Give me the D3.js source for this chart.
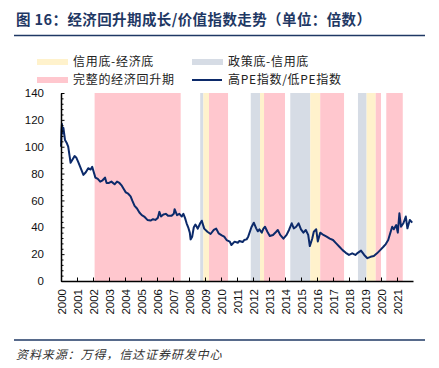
<!DOCTYPE html>
<html><head><meta charset="utf-8">
<script src="https://cdn.jsdelivr.net/npm/d3@7"></script>
<style>
body{margin:0;background:#fff;}
svg{display:block;}
</style></head>
<body>
<svg id="c" width="439" height="368"></svg>
<script>
const titleText = "图 16：经济回升期成长/价值指数走势（单位：倍数）";
const sourceText = "资料来源：万得，信达证券研发中心";
const legendLabels = ["信用底-经济底","政策底-信用底","完整的经济回升期","高PE指数/低PE指数"];
const yearTicks = [2000,2001,2002,2003,2004,2005,2006,2007,2008,2009,2010,2011,2012,2013,2014,2015,2016,2017,2018,2019,2020,2021];
const yTicks = [0,20,40,60,80,100,120,140];
const bandStart = [2002.1, 2008.7, 2008.9, 2009.25, 2011.86, 2012.44, 2012.69, 2014.33, 2015.58, 2016.2, 2018.56, 2019.1, 2019.67, 2020.33];
const bandEnd   = [2007.48, 2008.9, 2009.25, 2010.44, 2012.44, 2012.69, 2014.0, 2015.58, 2016.2, 2017.69, 2019.1, 2019.67, 2020.0, 2021.36];
const bandType  = ["full","policy","credit","full","policy","credit","full","policy","credit","full","policy","credit","full","full"];
const dates = [2000.00,2000.03,2000.06,2000.10,2000.15,2000.25,2000.35,2000.45,2000.55,2000.60,2000.75,2000.85,2000.95,2001.10,2001.20,2001.30,2001.40,2001.55,2001.70,2001.85,2001.95,2002.05,2002.15,2002.30,2002.45,2002.60,2002.75,2002.85,2003.00,2003.15,2003.35,2003.50,2003.65,2003.80,2003.95,2004.05,2004.20,2004.35,2004.45,2004.60,2004.75,2004.90,2005.05,2005.20,2005.40,2005.60,2005.75,2005.90,2006.05,2006.15,2006.25,2006.40,2006.55,2006.70,2006.90,2007.05,2007.10,2007.25,2007.40,2007.55,2007.65,2007.75,2007.85,2007.95,2008.05,2008.10,2008.20,2008.30,2008.40,2008.55,2008.70,2008.80,2008.95,2009.15,2009.35,2009.55,2009.70,2009.85,2010.05,2010.20,2010.35,2010.55,2010.65,2010.85,2011.05,2011.15,2011.35,2011.45,2011.60,2011.70,2011.90,2012.05,2012.20,2012.30,2012.40,2012.55,2012.65,2012.75,2012.90,2013.05,2013.25,2013.45,2013.55,2013.70,2013.90,2014.10,2014.25,2014.42,2014.55,2014.70,2014.85,2015.00,2015.15,2015.30,2015.45,2015.55,2015.70,2015.80,2015.95,2016.05,2016.20,2016.40,2016.60,2016.80,2017.00,2017.20,2017.40,2017.60,2017.80,2018.00,2018.20,2018.40,2018.55,2018.75,2018.95,2019.15,2019.35,2019.55,2019.75,2019.95,2020.15,2020.30,2020.45,2020.60,2020.70,2020.80,2020.95,2021.05,2021.15,2021.25,2021.40,2021.55,2021.65,2021.80,2021.95];
const ratio = [100,112,117,110,114,105,103,100,92,88,91,93,92,88,85,82,79,81,84,83,85,81,77,76,74,75,77,73,73,74,72,74,73,71,68,66,65,63,60,56,54,51,49,48,45.5,45,46,45.5,47,51.5,48,49.5,50,48.5,48.5,50,53.5,49,50,48,50,47,43,40,36,31,33,40,42,39,43,44.9,39,36.7,35,38,39,35.5,34,33,30.5,29.3,26.8,29.3,28.5,29.8,29,30.5,31,33,40,43.4,39.2,37,38.5,36,39,40.4,36.7,33.5,34.3,36.7,38,34.3,31.5,34.3,38,43,39.2,40.4,43,38.5,36,38,34.3,26,31.5,36.7,38.5,29.5,36,34.3,33,31.5,30.5,28,25.5,23,21,19.4,20.6,19.4,21,22.6,19.4,17,18,18.6,20.6,23,25.5,27.5,30.5,36.5,40.4,38.5,41.7,36,50.4,40.4,43,48,39.2,45.5,43.4];

const colors = {credit:"#FFF2CC", policy:"#D6DCE5", full:"#FFC7CE", line:"#0C2A6A", rule:"#1F3864"};
const svg = d3.select("#c");
const L=61, R=413, T=93, B=281;
const x = d3.scaleLinear().domain([2000,2022]).range([L,R]);
const y = d3.scaleLinear().domain([0,140]).range([B,T]);

// title
svg.append("text").attr("x",16).attr("y",25).attr("fill","#1F3864")
  .attr("font-family","'Noto Sans CJK SC',sans-serif").attr("font-weight","bold").attr("font-size",14.5)
  .attr("letter-spacing",0.4).text(titleText);
svg.append("line").attr("x1",14).attr("x2",425).attr("y1",35.5).attr("y2",35.5).attr("stroke",colors.rule).attr("stroke-width",1.5);
svg.append("line").attr("x1",14).attr("x2",425).attr("y1",340).attr("y2",340).attr("stroke",colors.rule).attr("stroke-width",1.5);
svg.append("text").attr("x",16).attr("y",359).attr("fill","#333")
  .attr("font-family","'Noto Sans CJK SC',sans-serif").attr("font-style","italic").attr("font-size",12)
  .attr("letter-spacing",0.9).text(sourceText);

// legend
const lg = [
  {lab:legendLabels[0], type:"credit", x:37, y:62},
  {lab:legendLabels[1], type:"policy", x:192, y:62},
  {lab:legendLabels[2], type:"full", x:37, y:80},
  {lab:legendLabels[3], type:"line", x:192, y:80}
];
lg.forEach(d=>{
  if(d.type==="line"){
    svg.append("line").attr("x1",d.x).attr("x2",d.x+30).attr("y1",d.y).attr("y2",d.y).attr("stroke",colors.line).attr("stroke-width",2);
  } else {
    svg.append("rect").attr("x",d.x).attr("y",d.y-3).attr("width",31).attr("height",6).attr("fill",colors[d.type]);
  }
  svg.append("text").attr("x",d.x+36).attr("y",d.y).attr("dy","0.35em").attr("fill","#222")
    .attr("font-family","'Noto Sans CJK SC',sans-serif").attr("font-size",12).attr("letter-spacing",0.7).text(d.lab);
});

// bands
svg.append("g").selectAll("rect").data(bandStart.map((s,i)=>({s,e:bandEnd[i],t:bandType[i]})))
  .join("rect").attr("x",d=>x(d.s)).attr("width",d=>x(d.e)-x(d.s)).attr("y",T).attr("height",B-T)
  .attr("fill",d=>colors[d.t]);

// line
const pts = dates.map((d,i)=>[d,ratio[i]]);
svg.append("path").datum(pts).attr("fill","none").attr("stroke",colors.line).attr("stroke-width",2).attr("stroke-linejoin","round")
  .attr("d",d3.line().x(d=>x(d[0])).y(d=>y(d[1])));

// axes
const minor = d3.range(0,141,4).filter(v=>v%20!==0);
const gyMinor = svg.append("g").attr("transform",`translate(${L},0)`)
  .call(d3.axisLeft(y).tickValues(minor).tickSizeInner(-2.5).tickSizeOuter(0).tickFormat(""));
gyMinor.select(".domain").remove();
gyMinor.selectAll("line").attr("stroke","#000");
const gy = svg.append("g").attr("transform",`translate(${L},0)`)
  .call(d3.axisLeft(y).tickValues(yTicks).tickSizeInner(-3.5).tickSizeOuter(0).tickPadding(17));
gy.select(".domain").attr("stroke","#000").attr("stroke-width",1.5);
gy.selectAll("text").attr("font-family","'Liberation Sans',Arial,sans-serif").attr("font-size",11.5).attr("fill","#111");

const gx = svg.append("g").attr("transform",`translate(0,${B})`)
  .call(d3.axisBottom(x).tickValues(yearTicks).tickSizeInner(-3.5).tickSizeOuter(0).tickFormat(d3.format("d")));
gx.select(".domain").attr("stroke","#000").attr("stroke-width",1.5);
gx.selectAll("text").attr("font-family","'Liberation Sans',Arial,sans-serif").attr("font-size",11.5).attr("fill","#111")
  .attr("transform","rotate(-90)").attr("text-anchor","end").attr("x",-8).attr("y",0).attr("dy","0.35em");
</script>
</body></html>
